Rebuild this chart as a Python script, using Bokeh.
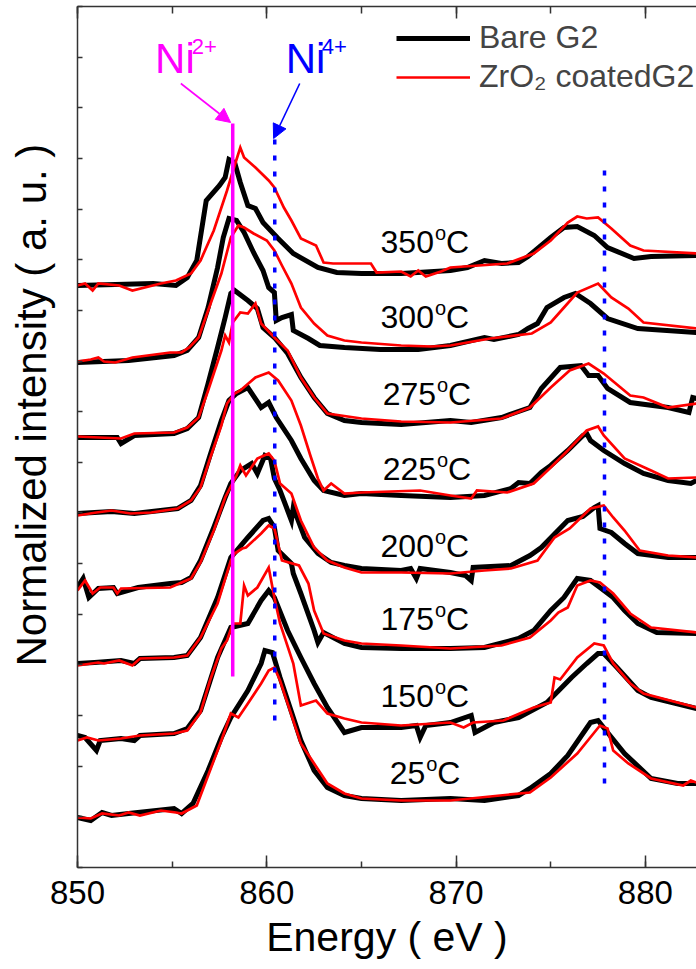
from bokeh.plotting import figure
from bokeh.models import (Range1d, LinearAxis, FixedTicker, SingleIntervalTicker,
                          Legend, LegendItem, Title, Arrow, NormalHead,
                          CustomLabelingPolicy)
from bokeh.core.properties import value
from bokeh.embed import file_html
from bokeh.resources import INLINE

FONT = "Liberation Sans"

# Ni L-edge spectra, (energy eV, normalized intensity incl. stacking offset)
bare_350 = [(850.0,5.82),(852.0,5.83),(854.0,5.84),(855.2,5.82),(855.8,5.90),(856.3,6.07),(856.8,6.67),(857.5,6.82),(857.8,6.90),(858.0,7.08),(858.3,7.05),(858.6,6.85),(859.0,6.62),(859.4,6.59),(859.8,6.45),(860.1,6.39),(860.6,6.29),(861.4,6.14),(862.7,6.00),(863.7,5.95),(865.0,5.94),(867.1,5.94),(869.7,5.97),(870.6,6.00),(871.5,6.07),(872.4,6.04),(873.3,6.05),(873.8,6.11),(875.0,6.30),(875.7,6.40),(876.4,6.41),(877.3,6.32),(878.0,6.20),(879.4,6.09),(880.3,6.11),(882.7,6.12)]
coated_350 = [(850.0,5.82),(850.4,5.84),(850.8,5.77),(851.1,5.84),(852.2,5.82),(852.9,5.77),(854.4,5.84),(855.2,5.87),(856.0,5.94),(856.5,6.07),(857.2,6.37),(857.9,6.77),(858.3,7.02),(858.6,7.20),(858.8,7.10),(859.4,7.00),(860.1,6.87),(860.4,6.80),(860.9,6.60),(861.3,6.47),(861.8,6.29),(862.6,6.22),(863.0,6.05),(863.5,6.04),(865.5,6.04),(865.8,5.95),(867.1,5.96),(867.6,5.91),(868.0,5.97),(868.4,5.91),(869.2,5.96),(869.7,6.00),(872.7,6.04),(874.1,6.14),(875.0,6.27),(875.9,6.45),(876.4,6.51),(876.9,6.49),(877.5,6.50),(878.2,6.39),(879.2,6.22),(879.9,6.17),(882.7,6.14)]

bare_300 = [(850.0,5.05),(852.7,5.07),(855.1,5.12),(855.8,5.17),(856.4,5.30),(856.9,5.60),(857.4,6.00),(857.7,6.30),(858.0,6.49),(858.4,6.47),(858.8,6.35),(859.3,6.15),(859.8,5.97),(860.1,5.80),(860.4,5.75),(860.5,5.47),(860.8,5.50),(861.3,5.53),(861.4,5.37),(862.2,5.29),(862.8,5.22),(864.1,5.20),(866.0,5.18),(868.0,5.18),(869.7,5.22),(871.5,5.30),(872.0,5.28),(873.3,5.33),(873.8,5.39),(874.3,5.44),(874.8,5.60),(875.7,5.70),(876.3,5.74),(877.1,5.64),(878.0,5.49),(879.6,5.39),(882.7,5.35)]
coated_300 = [(850.0,5.06),(850.7,5.08),(851.1,5.10),(851.4,5.06),(852.0,5.05),(852.9,5.10),(854.9,5.15),(855.5,5.15),(855.9,5.20),(856.4,5.30),(856.9,5.57),(857.6,5.94),(858.1,6.30),(858.5,6.42),(858.8,6.40),(859.3,6.34),(860.0,6.27),(860.4,6.17),(860.8,6.02),(861.3,5.84),(861.8,5.60),(862.5,5.44),(863.2,5.32),(864.1,5.27),(865.0,5.25),(867.1,5.22),(868.7,5.21),(869.7,5.22),(871.8,5.29),(874.0,5.34),(875.0,5.45),(875.7,5.60),(876.4,5.75),(877.5,5.84),(878.2,5.70),(879.1,5.59),(879.9,5.45),(882.7,5.39)]

bare_275 = [(850.0,4.30),(852.1,4.30),(852.3,4.24),(853.0,4.32),(855.1,4.34),(855.8,4.39),(856.4,4.50),(856.9,4.84),(857.4,5.20),(857.8,5.50),(858.1,5.74),(858.3,5.77),(859.0,5.67),(859.5,5.59),(859.8,5.40),(860.4,5.30),(861.1,5.14),(861.8,4.90),(862.5,4.70),(863.2,4.54),(864.1,4.47),(865.0,4.45),(867.1,4.43),(869.7,4.47),(870.8,4.45),(872.4,4.50),(873.9,4.60),(874.5,4.79),(875.5,5.00),(876.6,5.02),(877.0,4.92),(877.5,4.92),(878.0,4.79),(879.2,4.65),(881.2,4.60),(882.3,4.55),(882.5,4.70),(882.7,4.69)]
coated_275 = [(850.0,4.31),(852.3,4.29),(853.0,4.34),(855.1,4.35),(855.8,4.40),(856.4,4.50),(856.9,4.77),(857.6,5.17),(857.8,5.32),(858.0,5.25),(858.2,5.45),(858.6,5.55),(859.0,5.54),(859.4,5.64),(859.7,5.44),(860.4,5.30),(861.1,5.17),(861.8,4.90),(862.5,4.70),(863.2,4.54),(865.0,4.49),(867.1,4.46),(869.7,4.45),(872.4,4.49),(873.9,4.60),(875.0,4.80),(876.0,4.97),(877.0,5.04),(877.8,4.94),(879.2,4.72),(879.9,4.70),(881.2,4.60),(882.7,4.64)]

bare_225 = [(850.0,3.54),(851.8,3.56),(853.0,3.54),(855.3,3.59),(856.0,3.67),(856.5,3.82),(857.0,4.12),(857.6,4.47),(858.0,4.67),(858.4,4.74),(859.0,4.80),(859.7,4.60),(860.1,4.65),(860.5,4.50),(861.3,4.27),(861.8,4.09),(862.5,3.87),(863.0,3.77),(864.1,3.72),(865.0,3.74),(867.1,3.72),(869.7,3.70),(871.5,3.72),(872.9,3.79),(873.3,3.85),(873.9,3.84),(874.5,3.95),(875.0,4.02),(875.9,4.17),(876.7,4.32),(876.9,4.34),(877.1,4.27),(877.8,4.17),(878.9,4.04),(879.9,3.94),(881.2,3.87),(882.4,3.84),(882.7,3.87)]
coated_225 = [(850.0,3.52),(851.0,3.55),(851.8,3.57),(852.8,3.54),(853.9,3.55),(855.3,3.59),(856.0,3.67),(856.5,3.80),(857.0,4.09),(857.6,4.42),(857.9,4.64),(858.3,4.74),(858.6,4.77),(859.4,4.90),(860.1,4.95),(860.6,4.87),(861.3,4.67),(861.8,4.42),(862.3,4.12),(862.7,3.89),(863.0,3.77),(863.4,3.84),(864.1,3.74),(865.0,3.75),(868.1,3.77),(869.7,3.72),(870.8,3.69),(871.1,3.77),(872.7,3.75),(874.1,3.84),(875.0,4.00),(875.9,4.17),(876.9,4.37),(877.5,4.41),(877.8,4.32),(878.9,4.09),(880.3,3.97),(881.2,3.89),(882.7,3.90)]

bare_200 = [(850.0,2.80),(850.3,2.89),(850.6,2.70),(851.1,2.79),(851.9,2.80),(852.1,2.74),(853.2,2.80),(854.9,2.84),(855.5,2.85),(856.0,2.90),(856.5,3.07),(857.2,3.40),(857.8,3.70),(858.1,3.84),(858.6,3.97),(859.2,4.04),(859.5,3.94),(859.9,4.12),(860.2,4.09),(860.4,3.89),(860.7,3.77),(861.1,3.57),(861.3,3.47),(861.4,3.60),(862.0,3.30),(862.7,3.14),(863.4,3.05),(864.1,3.02),(865.0,2.99),(867.1,2.97),(867.6,2.99),(867.9,2.89),(868.1,2.99),(869.7,2.95),(870.5,2.92),(870.8,2.87),(870.9,3.00),(872.9,3.02),(873.9,3.12),(874.5,3.20),(875.9,3.47),(876.7,3.51),(877.3,3.60),(877.5,3.62),(877.6,3.39),(878.2,3.35),(878.9,3.24),(879.6,3.14),(881.2,3.10),(882.7,3.10)]
coated_200 = [(850.0,2.77),(850.4,2.87),(850.8,2.74),(851.2,2.80),(851.9,2.80),(852.1,2.74),(852.3,2.79),(854.9,2.80),(855.5,2.85),(856.0,2.89),(856.5,3.05),(857.2,3.37),(857.8,3.70),(858.4,3.92),(858.6,4.02),(858.9,3.92),(859.5,4.09),(860.1,4.14),(860.4,4.07),(860.7,3.84),(861.3,3.74),(861.8,3.47),(862.5,3.20),(863.2,3.07),(864.1,3.00),(865.0,2.95),(867.1,2.95),(869.7,2.94),(871.5,2.97),(872.9,2.99),(874.3,3.07),(875.2,3.30),(876.0,3.39),(877.1,3.59),(877.8,3.62),(878.3,3.50),(878.9,3.37),(879.7,3.17),(881.2,3.12),(882.7,3.10)]

bare_175 = [(850.0,2.04),(850.9,2.05),(852.3,2.07),(853.0,2.04),(853.3,2.09),(855.1,2.10),(855.8,2.12),(856.5,2.30),(857.4,2.70),(858.1,3.10),(859.0,3.30),(859.8,3.47),(860.1,3.49),(860.4,3.40),(860.6,3.17),(861.3,3.04),(861.4,2.94),(861.8,2.74),(862.5,2.37),(862.7,2.25),(863.0,2.35),(864.1,2.24),(865.0,2.20),(867.1,2.19),(869.7,2.19),(871.5,2.20),(873.3,2.29),(874.1,2.37),(875.0,2.57),(875.7,2.70),(876.4,2.89),(877.1,2.87),(877.6,2.80),(878.3,2.70),(878.9,2.57),(879.6,2.44),(880.6,2.35),(882.7,2.34)]
coated_175 = [(850.0,2.02),(851.1,2.05),(851.4,2.04),(852.2,2.07),(852.9,2.02),(853.3,2.09),(855.1,2.10),(855.8,2.12),(856.5,2.30),(857.4,2.64),(858.1,3.07),(858.3,3.14),(858.7,3.19),(858.9,3.20),(859.7,3.34),(860.1,3.42),(860.4,3.39),(860.8,3.07),(861.7,3.02),(862.2,2.84),(862.5,2.57),(863.0,2.34),(864.1,2.27),(865.0,2.24),(867.1,2.22),(869.7,2.19),(872.4,2.22),(873.9,2.30),(875.0,2.47),(875.4,2.55),(875.9,2.60),(876.4,2.82),(877.1,2.87),(877.6,2.85),(878.3,2.74),(879.2,2.54),(880.3,2.40),(882.7,2.35)]

bare_150 = [(850.0,1.32),(850.4,1.30),(851.0,1.17),(851.2,1.27),(852.3,1.29),(853.0,1.27),(853.3,1.32),(855.1,1.34),(855.8,1.39),(856.5,1.57),(857.4,2.10),(858.1,2.40),(859.0,2.44),(859.7,2.67),(860.1,2.77),(860.4,2.70),(861.1,2.37),(861.8,2.10),(862.5,1.84),(863.2,1.60),(864.1,1.35),(865.0,1.40),(867.1,1.40),(867.9,1.42),(868.1,1.30),(868.4,1.42),(869.7,1.45),(870.8,1.52),(871.0,1.35),(872.0,1.45),(873.3,1.50),(874.8,1.65),(876.1,1.90),(876.9,2.04),(877.5,2.14),(877.8,2.14),(878.5,2.00),(879.6,1.77),(880.3,1.70),(882.7,1.59)]
coated_150 = [(850.0,1.27),(850.5,1.30),(851.1,1.27),(852.3,1.29),(853.3,1.32),(855.1,1.34),(855.8,1.37),(856.5,1.55),(857.0,1.87),(857.6,2.19),(857.9,2.27),(858.2,2.44),(858.6,2.44),(858.8,2.82),(859.0,2.72),(859.5,2.80),(860.1,3.00),(860.4,2.70),(860.7,2.44),(861.4,2.04),(861.8,1.62),(862.6,1.67),(863.2,1.54),(864.1,1.49),(865.0,1.45),(867.1,1.42),(869.7,1.45),(870.4,1.40),(870.9,1.45),(872.5,1.47),(874.1,1.60),(875.0,1.65),(875.2,1.90),(875.5,1.88),(876.4,2.10),(877.3,2.24),(877.8,2.22),(878.3,2.04),(879.2,1.84),(879.9,1.74),(882.7,1.60)]

bare_25 = [(850.0,0.50),(850.7,0.47),(851.3,0.55),(851.8,0.52),(852.7,0.54),(855.1,0.59),(855.5,0.54),(856.1,0.64),(856.9,0.97),(857.6,1.30),(858.1,1.50),(859.0,1.77),(859.7,2.04),(859.9,2.17),(860.3,2.15),(860.7,1.90),(861.4,1.50),(861.8,1.27),(862.5,0.97),(863.2,0.80),(864.1,0.72),(865.0,0.69),(867.1,0.67),(869.7,0.69),(871.5,0.67),(873.3,0.72),(873.9,0.79),(875.0,0.94),(875.9,1.12),(877.1,1.45),(877.5,1.47),(878.0,1.35),(878.9,1.14),(880.3,0.89),(881.7,0.84),(882.7,0.84)]
coated_25 = [(850.0,0.50),(850.7,0.49),(851.3,0.54),(852.2,0.52),(852.7,0.55),(853.3,0.52),(854.4,0.57),(855.2,0.55),(855.5,0.54),(856.3,0.62),(857.0,0.97),(857.6,1.27),(858.1,1.54),(858.5,1.50),(859.0,1.64),(859.7,1.84),(860.1,1.97),(860.4,2.00),(860.7,1.87),(861.8,1.24),(863.2,0.84),(864.1,0.74),(865.0,0.69),(867.1,0.67),(869.7,0.67),(873.9,0.75),(875.0,0.90),(876.4,1.14),(877.6,1.42),(878.0,1.39),(878.3,1.17),(879.1,1.04),(880.3,0.89),(882.0,0.82),(882.4,0.87),(882.7,0.85)]

BARE = [bare_350, bare_300, bare_275, bare_225, bare_200, bare_175, bare_150, bare_25]
COATED = [coated_350, coated_300, coated_275, coated_225, coated_200, coated_175, coated_150, coated_25]

# temperature tags beside each pair of spectra (anchor = end of the number)
TEMPS = ["350", "300", "275", "225", "200", "175", "150", "25"]
TEMP_E = [868.83, 868.83, 868.94, 868.94, 868.83, 868.83, 868.83, 868.37]
TEMP_I = [6.26, 5.51, 4.74, 3.99, 3.22, 2.49, 1.72, 0.95]

# reference energies: Ni2+ main edge, Ni4+ edge and its L2 counterpart
NI2_E, NI2_TOP, NI2_BOTTOM = 858.2, 7.44, 1.91
NI4_E = [860.42, 877.84]
NI4_TOP = [7.29, 7.06]
NI4_BOTTOM = [1.47, 0.84]

# oxidation-state tags and their pointers
TAG_E = [854.1, 861.0]
TAG_I = [8.09, 8.09]
TAG_SUP_E = [856.03, 862.9]
TAG_SUP_I = [8.215, 8.215]
TAG_SUP = ["2+", "4+"]
TAG_COLORS = ["#ff00ff", "#0000ff"]
ARROW_START = [(855.46, 7.84), (861.74, 7.84)]
ARROW_END = [(858.09, 7.45), (860.36, 7.29)]

X_MIN, X_MAX = 850, 882.7
Y_MIN, Y_MAX = 0, 8.61
Y_TICKS = [Y_MAX * k / 17 for k in range(18)]

AXIS_COLOR = "#333333"
NO_LABELS = CustomLabelingPolicy(code="")

p = figure(width=696, height=969, x_range=Range1d(X_MIN, X_MAX),
           y_range=Range1d(Y_MIN, Y_MAX), output_backend="svg",
           toolbar_location=None, min_border_left=77, min_border_right=0,
           min_border_top=6, min_border_bottom=102, outline_line_color=None,
           background_fill_color="white", border_fill_color="white")
p.xgrid.visible = False
p.ygrid.visible = False

# bottom axis
xa = p.xaxis[0]
xa.ticker = SingleIntervalTicker(interval=10, num_minor_ticks=2)
xa.major_tick_in = 12
xa.major_tick_out = 0
xa.minor_tick_in = 6
xa.minor_tick_out = 0
xa.axis_line_width = 1.5
xa.axis_line_color = AXIS_COLOR
xa.major_tick_line_color = AXIS_COLOR
xa.minor_tick_line_color = AXIS_COLOR
xa.major_tick_line_width = 1.5
xa.minor_tick_line_width = 1.5
xa.major_label_text_font = FONT
xa.major_label_text_font_size = "33px"
xa.major_label_text_color = "black"
xa.major_label_standoff = 13
xa.axis_label = "Energy ( eV )"
xa.axis_label_text_font = FONT
xa.axis_label_text_font_size = "41px"
xa.axis_label_text_font_style = "normal"
xa.axis_label_text_color = "black"
xa.axis_label_standoff = 7

# top axis: ticks only
top = LinearAxis(ticker=SingleIntervalTicker(interval=10, num_minor_ticks=2),
                 major_tick_in=12, major_tick_out=0, minor_tick_in=7, minor_tick_out=0,
                 major_label_policy=NO_LABELS, major_label_text_font_size="1px",
                 major_label_standoff=0,
                 axis_line_width=1.5, axis_line_color=AXIS_COLOR,
                 major_tick_line_color=AXIS_COLOR, minor_tick_line_color=AXIS_COLOR,
                 major_tick_line_width=1.5, minor_tick_line_width=1.5)
p.add_layout(top, "above")

# left axis: unlabeled ticks; the standoff keeps a gap before the quantity label
ya = p.yaxis[0]
ya.ticker = FixedTicker(ticks=Y_TICKS)
ya.major_tick_in = 5
ya.major_tick_out = 0
ya.minor_tick_in = 0
ya.minor_tick_out = 0
ya.major_label_policy = NO_LABELS
ya.major_label_text_font_size = "1px"
ya.major_label_standoff = 12
ya.axis_line_width = 1.5
ya.axis_line_color = AXIS_COLOR
ya.major_tick_line_color = AXIS_COLOR
ya.major_tick_line_width = 1.5

# vertical quantity label, set a little above the frame centre
p.add_layout(Title(text="Normalized intensity ( a. u. )", align="left", offset=201,
                   text_font=FONT, text_font_size="42px", text_font_style="normal",
                   text_color="black", standoff=10), "left")

bare_renderers, coated_renderers = [], []
for bare, coated in zip(BARE, COATED):
    rb = p.line([e for e, _ in bare], [v for _, v in bare], line_color="black",
                line_width=5, line_join="miter")
    rc = p.line([e for e, _ in coated], [v for _, v in coated], line_color="#ff0000",
                line_width=2.7, line_join="miter")
    bare_renderers.append(rb)
    coated_renderers.append(rc)

# reference lines
p.line([NI2_E, NI2_E], [NI2_BOTTOM, NI2_TOP], line_color="#ff00ff", line_width=3.5)
for e, top_i, bot_i in zip(NI4_E, NI4_TOP, NI4_BOTTOM):
    p.line([e, e], [bot_i, top_i], line_color="#0000ff", line_width=3.5, line_dash="5 11")

# oxidation-state tags
p.text(x=TAG_E, y=TAG_I, text=["Ni", "Ni"], text_color=TAG_COLORS,
       text_font=value(FONT), text_font_size="42px", text_align="left",
       text_baseline="middle")
p.text(x=TAG_SUP_E, y=TAG_SUP_I, text=TAG_SUP, text_color=TAG_COLORS,
       text_font=value(FONT), text_font_size="22px", text_align="left",
       text_baseline="middle")
for (xs, ys), (xe, ye), c in zip(ARROW_START, ARROW_END, TAG_COLORS):
    p.add_layout(Arrow(end=NormalHead(size=14, fill_color=c, line_color=c),
                       x_start=xs, y_start=ys, x_end=xe, y_end=ye,
                       line_color=c, line_width=1.6))

# temperature tags: number, raised "o", then "C"
p.text(x=TEMP_E, y=TEMP_I, text=TEMPS, text_font=value(FONT), text_font_size="32px",
       text_align="right", text_baseline="middle", text_color="black")
p.text(x=TEMP_E, y=TEMP_I, text=["o"] * len(TEMPS), text_font=value(FONT),
       text_font_size="20px", text_align="left", text_baseline="middle",
       x_offset=1, y_offset=-9, text_color="black")
p.text(x=TEMP_E, y=TEMP_I, text=["C"] * len(TEMPS), text_font=value(FONT),
       text_font_size="32px", text_align="left", text_baseline="middle",
       x_offset=12, text_color="black")

legend = Legend(items=[LegendItem(label="Bare G2", renderers=[bare_renderers[0]]),
                       LegendItem(label="ZrO\u2082 coatedG2", renderers=[coated_renderers[0]])],
                location=(319, 772), margin=0, padding=8, spacing=2,
                glyph_width=74, glyph_height=30, label_standoff=9,
                label_text_font=FONT, label_text_font_size="32px",
                border_line_color=None, background_fill_alpha=0)
p.add_layout(legend)

open("out.html", "w").write(file_html(p, INLINE))
